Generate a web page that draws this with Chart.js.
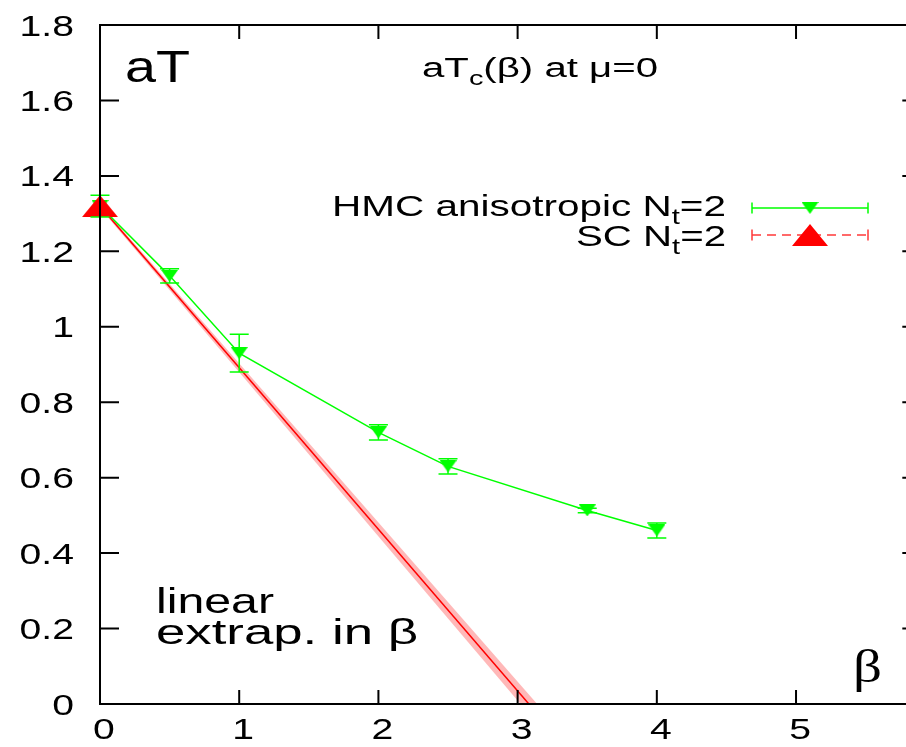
<!DOCTYPE html>
<html>
<head>
<meta charset="utf-8">
<script src="https://cdn.jsdelivr.net/npm/chart.js@4"></script>
<style>
  html, body { margin: 0; padding: 0; background: #fff; }
  canvas { display: block; }
</style>
</head>
<body>
<canvas id="plot" width="906" height="747"></canvas>
<script>
// HMC anisotropic Nt=2 : aT_c vs beta, with error bars
const hmcBeta = [0, 0.5, 1, 2, 2.5, 3.5, 4]
const hmcAT   = [1.32, 1.135, 0.93, 0.72, 0.63, 0.513, 0.46]
const hmcErr  = [0.029, 0.019, 0.05, 0.02, 0.02, 0.006, 0.02]

// strong coupling Nt=2 point
const scBeta = [0]
const scAT   = [1.32]

// linear extrapolation in beta (centre line and its band), runs below 0 and is clipped
const fitBeta  = [0, 3.2]
const fitAT    = [1.32, -0.051]
const bandBeta = [0, 3.2]
const bandHiAT = [1.325, -0.025]
const bandLoAT = [1.315, -0.078]

// ticks
const xTicks = [0, 1, 2, 3, 4, 5]
const xTickLabels = ['0', '1', '2', '3', '4', '5']
const yTicks = [0, 0.2, 0.4, 0.6, 0.8, 1, 1.2, 1.4, 1.6, 1.8]
const yTickLabels = ['0', '0.2', '0.4', '0.6', '0.8', '1', '1.2', '1.4', '1.6', '1.8']
const xFrameEnd = 5.9   // right frame sits just past the picture edge

const SANS = '"Liberation Sans", Arial, Helvetica, sans-serif'
const SERIF = '"Liberation Serif", "Times New Roman", serif'
const SX = 1.35   // the picture's text is stretched sideways
const GREEN = '#00ff00'
const RED = '#ff0000'

function pts(xs, ys) {
  return xs.map((x, i) => ({x: x, y: ys[i]}))
}

// triangle markers as small canvases (flattened like the original)
function triMarker(w, h, color, down) {
  const c = document.createElement('canvas')
  c.width = w
  c.height = h
  const g = c.getContext('2d')
  g.fillStyle = color
  g.beginPath()
  if (down) {
    g.moveTo(0, 0); g.lineTo(w, 0); g.lineTo(w / 2, h)
  } else {
    g.moveTo(w / 2, 0); g.lineTo(w, h); g.lineTo(0, h)
  }
  g.closePath()
  g.fill()
  return c
}
const greenTri = triMarker(17, 12, GREEN, true)
const redTri = triMarker(36, 22, RED, false)

// text with optional subscripts, stretched horizontally
function rich(ctx, parts, x, y, size, align, width, family) {
  const fam = family || SANS
  let total = 0
  const ws = parts.map(p => {
    ctx.font = (p.sub ? size * 0.72 : size) + 'px ' + fam
    const w = ctx.measureText(p.t).width
    total += w
    return w
  })
  const sx = width ? width / total : SX
  let x0 = x
  if (align === 'right') x0 = x - total * sx
  if (align === 'center') x0 = x - total * sx / 2
  ctx.save()
  ctx.translate(x0, y)
  ctx.scale(sx, 1)
  ctx.fillStyle = '#000'
  ctx.textAlign = 'left'
  ctx.textBaseline = 'alphabetic'
  let cx = 0
  parts.forEach((p, i) => {
    ctx.font = (p.sub ? size * 0.72 : size) + 'px ' + fam
    ctx.fillText(p.t, cx, p.sub ? size * 0.28 : 0)
    cx += ws[i]
  })
  ctx.restore()
}

const decor = {
  id: 'decor',
  afterDatasetsDraw(chart) {
    const ctx = chart.ctx
    const xs = chart.scales.x, ys = chart.scales.y
    const a = chart.chartArea
    const right = xs.getPixelForValue(xFrameEnd)

    // error bars for HMC
    ctx.save()
    ctx.strokeStyle = GREEN
    ctx.lineWidth = 1.5
    hmcBeta.forEach((b, i) => {
      const px = xs.getPixelForValue(b)
      const t = ys.getPixelForValue(hmcAT[i] + hmcErr[i])
      const u = ys.getPixelForValue(hmcAT[i] - hmcErr[i])
      ctx.beginPath()
      ctx.moveTo(px, t); ctx.lineTo(px, u)
      ctx.moveTo(px - 9.5, t); ctx.lineTo(px + 9.5, t)
      ctx.moveTo(px - 9.5, u); ctx.lineTo(px + 9.5, u)
      ctx.stroke()
    })
    ctx.restore()

    // frame and inward ticks
    ctx.save()
    ctx.strokeStyle = '#000'
    ctx.lineWidth = 2
    ctx.beginPath()
    ctx.moveTo(right, a.top); ctx.lineTo(a.left, a.top)
    ctx.lineTo(a.left, a.bottom); ctx.lineTo(right, a.bottom)
    ctx.stroke()
    ctx.beginPath()
    xTicks.forEach(v => {
      const px = xs.getPixelForValue(v)
      ctx.moveTo(px, a.bottom); ctx.lineTo(px, a.bottom - 14)
      ctx.moveTo(px, a.top); ctx.lineTo(px, a.top + 14)
    })
    yTicks.forEach(v => {
      const py = ys.getPixelForValue(v)
      ctx.moveTo(a.left, py); ctx.lineTo(a.left + 19, py)
      ctx.moveTo(right, py); ctx.lineTo(right - 19, py)
    })
    ctx.stroke()
    ctx.restore()

    // tick labels
    yTicks.forEach((v, i) => {
      rich(ctx, [{t: yTickLabels[i]}], 74, ys.getPixelForValue(v) + 10.5, 29, 'right')
    })
    xTicks.forEach((v, i) => {
      rich(ctx, [{t: xTickLabels[i]}], xs.getPixelForValue(v) + 4, 739, 29, 'center')
    })

    // annotations
    rich(ctx, [{t: 'aT'}], 125, 82, 45, 'left', 65)
    rich(ctx, [{t: 'aT'}, {t: 'c', sub: true}, {t: '(β) at μ=0'}], 422, 77, 27, 'left', 236)
    rich(ctx, [{t: 'linear'}], 156, 613, 35, 'left', 118)
    rich(ctx, [{t: 'extrap. in β'}], 156, 644, 35, 'left', 262)
    rich(ctx, [{t: 'β'}], 853, 682, 46, 'left', 29, SERIF)

    // legend
    rich(ctx, [{t: 'HMC anisotropic N'}, {t: 't', sub: true}, {t: '=2'}], 726, 216, 30, 'right', 394)
    rich(ctx, [{t: 'SC N'}, {t: 't', sub: true}, {t: '=2'}], 726, 246, 30, 'right', 150)
    ctx.save()
    ctx.lineWidth = 1.5
    ctx.strokeStyle = GREEN
    ctx.beginPath()
    ctx.moveTo(752, 208); ctx.lineTo(868, 208)
    ctx.moveTo(752, 202.5); ctx.lineTo(752, 213.5)
    ctx.moveTo(868, 202.5); ctx.lineTo(868, 213.5)
    ctx.stroke()
    ctx.drawImage(greenTri, 810 - 8.5, 208 - 6)
    ctx.strokeStyle = '#ff3838'
    ctx.beginPath()
    ctx.moveTo(752, 229.5); ctx.lineTo(752, 240.5)
    ctx.moveTo(868, 229.5); ctx.lineTo(868, 240.5)
    ctx.stroke()
    ctx.setLineDash([9, 6])
    ctx.beginPath()
    ctx.moveTo(752, 235); ctx.lineTo(868, 235)
    ctx.stroke()
    ctx.setLineDash([])
    ctx.drawImage(redTri, 810 - 18, 235 - 11)
    ctx.restore()
  }
}

const data = {
  datasets: [
    {
      label: 'band upper',
      data: pts(bandBeta, bandHiAT),
      showLine: true,
      borderWidth: 0,
      borderColor: 'rgba(255,0,0,0)',
      backgroundColor: 'rgba(255,0,0,0.28)',
      pointRadius: 0,
      fill: '+1',
      order: 5
    },
    {
      label: 'band lower',
      data: pts(bandBeta, bandLoAT),
      showLine: true,
      borderWidth: 0,
      borderColor: 'rgba(255,0,0,0)',
      pointRadius: 0,
      fill: false,
      order: 6
    },
    {
      label: 'linear extrap.',
      data: pts(fitBeta, fitAT),
      showLine: true,
      borderColor: RED,
      borderWidth: 1.5,
      pointRadius: 0,
      fill: false,
      order: 4
    },
    {
      label: 'HMC anisotropic Nt=2',
      data: pts(hmcBeta, hmcAT),
      showLine: true,
      borderColor: GREEN,
      borderWidth: 1.5,
      pointStyle: greenTri,
      pointRadius: 8,
      fill: false,
      clip: false,
      order: 2
    },
    {
      label: 'SC Nt=2',
      data: pts(scBeta, scAT),
      showLine: false,
      pointStyle: redTri,
      pointRadius: 18,
      clip: false,
      order: 1
    }
  ]
}

const config = {
  type: 'scatter',
  data: data,
  options: {
    responsive: false,
    animation: false,
    devicePixelRatio: 1,
    layout: { autoPadding: false, padding: { left: 100, top: 25, right: 0, bottom: 43 } },
    plugins: {
      legend: { display: false },
      tooltip: { enabled: false },
      filler: { propagate: false }
    },
    scales: {
      x: { type: 'linear', min: 0, max: 5.79, display: false },
      y: { type: 'linear', min: 0, max: 1.8, display: false }
    }
  },
  plugins: [decor]
}

let chart = new Chart(document.querySelector('#plot'), config)
</script>
</body>
</html>
